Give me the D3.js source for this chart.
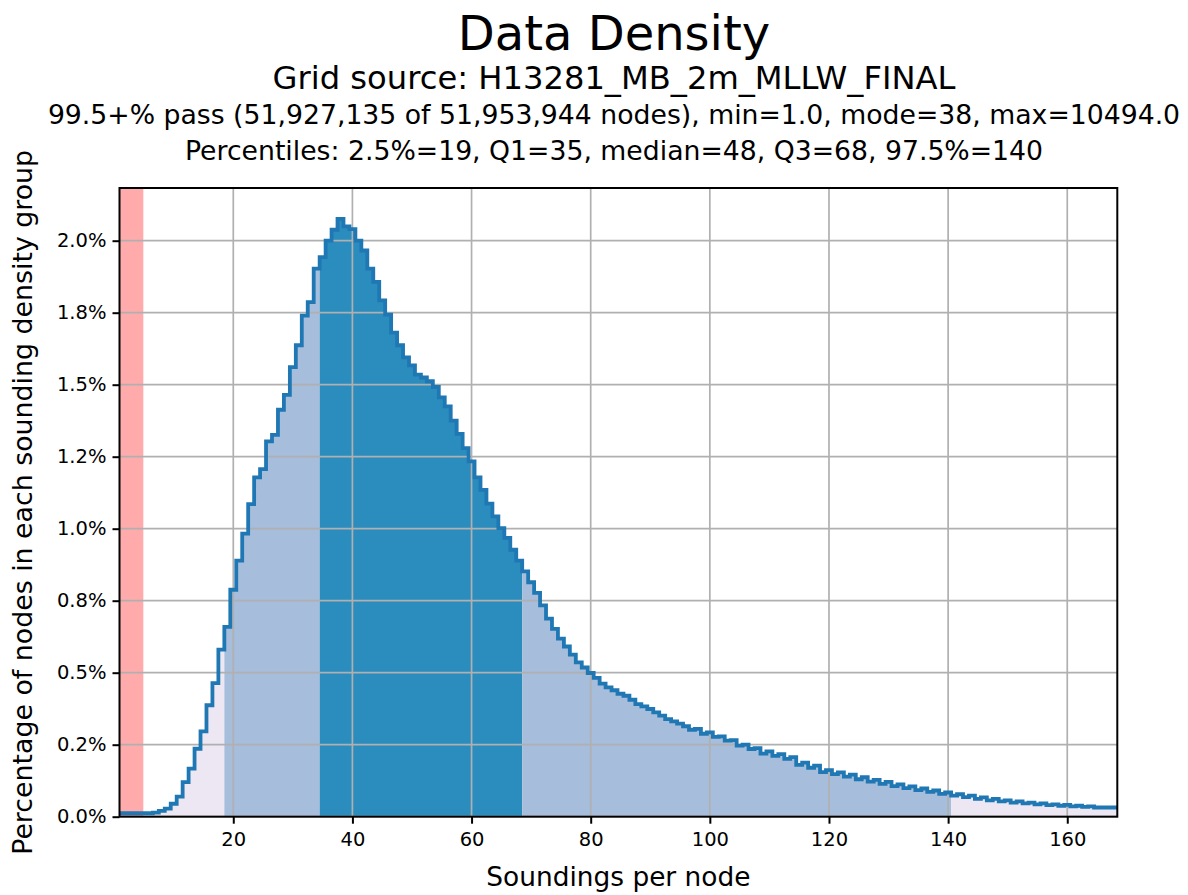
<!DOCTYPE html>
<html>
<head>
<meta charset="utf-8">
<script src="https://cdn.jsdelivr.net/npm/d3@7"></script>
<style>
  html, body { margin: 0; padding: 0; background: #ffffff; }
  svg text { font-family: "DejaVu Sans", sans-serif; fill: #000; }
</style>
</head>
<body>
<svg id="chart" width="1188" height="895"></svg>
<script>
// Soundings-per-node histogram, one bin per integer count (percent of nodes)
const soundings = d3.range(1, 169);
const pctNodes = [
  0.012, 0.012, 0.012, 0.012, 0.012, 0.012, 0.014, 0.020, 0.028, 0.045,
  0.070, 0.120, 0.167, 0.236, 0.296, 0.387, 0.464, 0.580, 0.659, 0.788,
  0.889, 0.983, 1.085, 1.178, 1.207, 1.303, 1.326, 1.413, 1.465, 1.561,
  1.637, 1.740, 1.787, 1.903, 1.943, 2.000, 2.038, 2.076, 2.050, 2.040,
  2.000, 1.966, 1.903, 1.857, 1.793, 1.743, 1.681, 1.637, 1.595, 1.567,
  1.535, 1.525, 1.512, 1.492, 1.456, 1.425, 1.375, 1.329, 1.280, 1.234,
  1.178, 1.135, 1.087, 1.043, 1.002, 0.968, 0.927, 0.889, 0.852, 0.814,
  0.777, 0.734, 0.688, 0.652, 0.618, 0.591, 0.563, 0.536, 0.518, 0.499,
  0.482, 0.462, 0.449, 0.439, 0.427, 0.420, 0.406, 0.391, 0.383, 0.374,
  0.362, 0.351, 0.339, 0.331, 0.323, 0.314, 0.302, 0.305, 0.288, 0.293,
  0.277, 0.279, 0.264, 0.266, 0.247, 0.250, 0.235, 0.238, 0.219, 0.227,
  0.211, 0.217, 0.201, 0.207, 0.180, 0.188, 0.170, 0.177, 0.155, 0.162,
  0.148, 0.154, 0.139, 0.146, 0.130, 0.137, 0.122, 0.128, 0.114, 0.121,
  0.106, 0.112, 0.099, 0.105, 0.092, 0.098, 0.086, 0.091, 0.079, 0.084,
  0.073, 0.078, 0.068, 0.073, 0.062, 0.067, 0.057, 0.062, 0.053, 0.057,
  0.049, 0.053, 0.046, 0.049, 0.043, 0.046, 0.040, 0.043, 0.038, 0.041,
  0.036, 0.038, 0.034, 0.036, 0.032, 0.032, 0.032, 0.032
];

// Percentile bands: [first bin, last bin]
const bandOuterLow  = [1, 18];    // below 2.5 %
const bandInnerLow  = [19, 34];   // 2.5 % .. Q1
const bandIQR       = [35, 68];   // Q1 .. Q3
const bandInnerHigh = [69, 140];  // Q3 .. 97.5 %
const bandOuterHigh = [141, 168]; // above 97.5 %
const failRange = [0.9, 4.9];     // nodes under the density threshold

const xTicks = [20, 40, 60, 80, 100, 120, 140, 160];
const yTicks = [0, 0.25, 0.5, 0.75, 1.0, 1.25, 1.5, 1.75, 2.0];
const yTickLabels = ["0.0%", "0.2%", "0.5%", "0.8%", "1.0%", "1.2%", "1.5%", "1.8%", "2.0%"];

const titleText = "Data Density";
const subtitleLines = [
  "Grid source: H13281_MB_2m_MLLW_FINAL",
  "99.5+% pass (51,927,135 of 51,953,944 nodes), min=1.0, mode=38, max=10494.0",
  "Percentiles: 2.5%=19, Q1=35, median=48, Q3=68, 97.5%=140"
];
const xLabel = "Soundings per node";
const yLabel = "Percentage of nodes in each sounding density group";

const svg = d3.select("#chart");
const plot = { left: 119.5, right: 1117.3, top: 188, bottom: 816.7 };

const x = d3.scaleLinear().domain([0.9, 168.4]).range([plot.left, plot.right]);
const y = d3.scaleLinear().domain([0, 2.183]).range([plot.bottom, plot.top]);

const bins = soundings.map((s, i) => ({ s, v: pctNodes[i] }));

svg.append("defs").append("clipPath").attr("id", "plot-clip")
  .append("rect")
  .attr("x", plot.left).attr("y", plot.top)
  .attr("width", plot.right - plot.left).attr("height", plot.bottom - plot.top);

const g = svg.append("g").attr("clip-path", "url(#plot-clip)");

// step points on bin edges: each bin spans s-0.5 .. s+0.5
function stepPoints(lo, hi) {
  const sel = bins.filter(b => b.s >= lo && b.s <= hi);
  const pts = sel.map(b => ({ e: b.s - 0.5, v: b.v }));
  pts.push({ e: sel[sel.length - 1].s + 0.5, v: sel[sel.length - 1].v });
  return pts;
}

const area = d3.area()
  .x(d => x(d.e)).y0(y(0)).y1(d => y(d.v))
  .curve(d3.curveStepAfter);

const fills = [
  [bandOuterLow, "#ece7f2"],
  [bandInnerLow, "#a6bddb"],
  [bandIQR, "#2b8cbe"],
  [bandInnerHigh, "#a6bddb"],
  [bandOuterHigh, "#ece7f2"]
];
fills.forEach(([r, c]) => {
  g.append("path").datum(stepPoints(r[0], r[1]))
    .attr("d", area).attr("fill", c).attr("stroke", "none");
});

// below-threshold span
g.append("rect")
  .attr("x", x(failRange[0])).attr("y", plot.top)
  .attr("width", x(failRange[1]) - x(failRange[0]))
  .attr("height", plot.bottom - plot.top)
  .attr("fill", "#ff0000").attr("fill-opacity", 0.33);

// grid
const grid = g.append("g").attr("stroke", "#b0b0b0").attr("stroke-width", 1.7);
xTicks.forEach(t => grid.append("line")
  .attr("x1", x(t)).attr("x2", x(t)).attr("y1", plot.top).attr("y2", plot.bottom));
yTicks.forEach(t => grid.append("line")
  .attr("x1", plot.left).attr("x2", plot.right).attr("y1", y(t)).attr("y2", y(t)));

// histogram outline
const line = d3.line().x(d => x(d.e)).y(d => y(d.v)).curve(d3.curveStepAfter);
g.append("path").datum(stepPoints(1, 168))
  .attr("d", line).attr("fill", "none")
  .attr("stroke", "#1f77b4").attr("stroke-width", 3.8)
  .attr("stroke-linejoin", "miter");

// axes
const xAxis = d3.axisBottom(x).tickValues(xTicks).tickSize(7).tickPadding(8);
const yAxis = d3.axisLeft(y).tickValues(yTicks).tickSize(7).tickPadding(6)
  .tickFormat((d, i) => yTickLabels[i]);

const gx = svg.append("g").attr("transform", `translate(0,${plot.bottom})`).call(xAxis);
const gy = svg.append("g").attr("transform", `translate(${plot.left},0)`).call(yAxis);
[gx, gy].forEach(a => {
  a.select(".domain").remove();
  a.selectAll(".tick line").attr("stroke", "#000").attr("stroke-width", 2);
  a.selectAll(".tick text").attr("font-size", 19.5).attr("font-family", "DejaVu Sans");
});

// frame
svg.append("rect")
  .attr("x", plot.left).attr("y", plot.top)
  .attr("width", plot.right - plot.left).attr("height", plot.bottom - plot.top)
  .attr("fill", "none").attr("stroke", "#000").attr("stroke-width", 2);

// titles
const cx = 614;
svg.append("text").attr("x", cx).attr("y", 50).attr("text-anchor", "middle")
  .attr("font-size", 48).text(titleText);
svg.append("text").attr("x", cx).attr("y", 89).attr("text-anchor", "middle")
  .attr("font-size", 32.2).text(subtitleLines[0]);
svg.append("text").attr("x", cx).attr("y", 124).attr("text-anchor", "middle")
  .attr("font-size", 26.7).text(subtitleLines[1]);
svg.append("text").attr("x", cx).attr("y", 160).attr("text-anchor", "middle")
  .attr("font-size", 26.7).text(subtitleLines[2]);

svg.append("text").attr("x", (plot.left + plot.right) / 2).attr("y", 886)
  .attr("text-anchor", "middle").attr("font-size", 26.4).text(xLabel);
svg.append("text")
  .attr("transform", `translate(32,${(plot.top + plot.bottom) / 2}) rotate(-90)`)
  .attr("text-anchor", "middle").attr("font-size", 26.8).text(yLabel);
</script>
</body>
</html>
